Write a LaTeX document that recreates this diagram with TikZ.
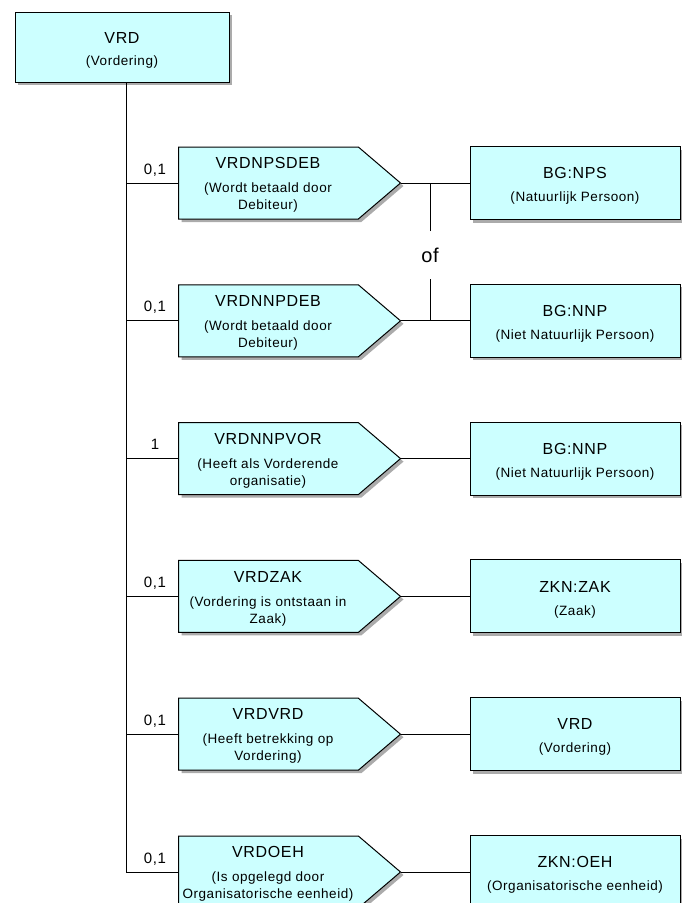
\documentclass[tikz,border=0pt]{standalone}
\usepackage{fontspec}
\setmainfont{Liberation Sans}[LetterSpace=4]
\usepackage{tikz}
\usetikzlibrary{positioning, shapes.symbols, shadows, calc}

\definecolor{entFill}{RGB}{204,255,255}
\newcommand{\titleFont}{\fontsize{16}{18}\selectfont}
\newcommand{\subFont}{\fontsize{13.5}{17}\selectfont}

\begin{document}
\begin{tikzpicture}[x=1pt, y=-1pt, line width=1pt,
  boxShadow/.style={drop shadow={shadow xshift=3pt, shadow yshift=-3pt, fill=black!55, opacity=.6}},
  entBox/.style={draw, fill=entFill, inner sep=0pt, boxShadow},
  relBox/.style={signal, signal to=east, signal pointer angle=81, draw, fill=entFill, inner sep=0pt,
    minimum width=222pt, minimum height=72pt, boxShadow},
  boxText/.style={align=center, inner sep=0pt, font=\subFont},
  cardLabel/.style={font=\fontsize{15}{17}\selectfont, inner sep=0pt}]
  \useasboundingbox (0,0) rectangle (681,903);
  \pgfmathsetmacro{\rowGap}{137.8};

  % top entity
  \node[entBox, minimum width=214pt, minimum height=70pt] (topBox) at (122,47) {};
  \node[boxText] (topTxt) at ([yshift=-3pt]topBox.center) {{\titleFont VRD}\\[5pt](Vordering)};

  \foreach \i/\card/\relName/\relSub/\entName/\entSub in {
    1/{0,1}/VRDNPSDEB/{(Wordt betaald door\\Debiteur)}/BG:NPS/(Natuurlijk Persoon),
    2/{0,1}/VRDNNPDEB/{(Wordt betaald door\\Debiteur)}/BG:NNP/(Niet Natuurlijk Persoon),
    3/1/VRDNNPVOR/{(Heeft als Vorderende\\organisatie)}/BG:NNP/(Niet Natuurlijk Persoon),
    4/{0,1}/VRDZAK/{(Vordering is ontstaan in\\Zaak)}/ZKN:ZAK/(Zaak),
    5/{0,1}/VRDVRD/{(Heeft betrekking op\\Vordering)}/VRD/(Vordering),
    6/{0,1}/VRDOEH/{(Is opgelegd door\\Organisatorische eenheid)}/ZKN:OEH/(Organisatorische eenheid)}{
    \pgfmathsetmacro{\rowY}{183+(\i-1)*\rowGap}
    \coordinate (spine\i) at (126,\rowY);
    \node[relBox, anchor=west] (rel\i) at (178,\rowY) {};
    \node[boxText] (relTxt\i) at ([xshift=90pt, yshift=-2pt]rel\i.west) {{\titleFont\relName}\\[7pt]\relSub};
    \node[entBox, minimum width=210pt, minimum height=73pt] (ent\i) at (575,\rowY) {};
    \node[boxText] (entTxt\i) at ([yshift=-3pt]ent\i.center) {{\titleFont\entName}\\[6pt]\entSub};
    \node[cardLabel, anchor=base] (card\i) at (155,\rowY-9) {\card};
    \draw (spine\i) -- (rel\i.west);
    \draw (rel\i.east) -- (ent\i.west);
  }

  % spine
  \draw (topBox.south -| spine1) -- (spine6);

  % exclusive choice
  \node[font=\fontsize{20}{22}\selectfont, minimum height=47pt, inner sep=0pt] (ofLabel) at (430,255) {of};
  \draw (ofLabel.north) -- (ofLabel.north |- spine1);
  \draw (ofLabel.south) -- (ofLabel.south |- spine2);
\end{tikzpicture}
\end{document}
